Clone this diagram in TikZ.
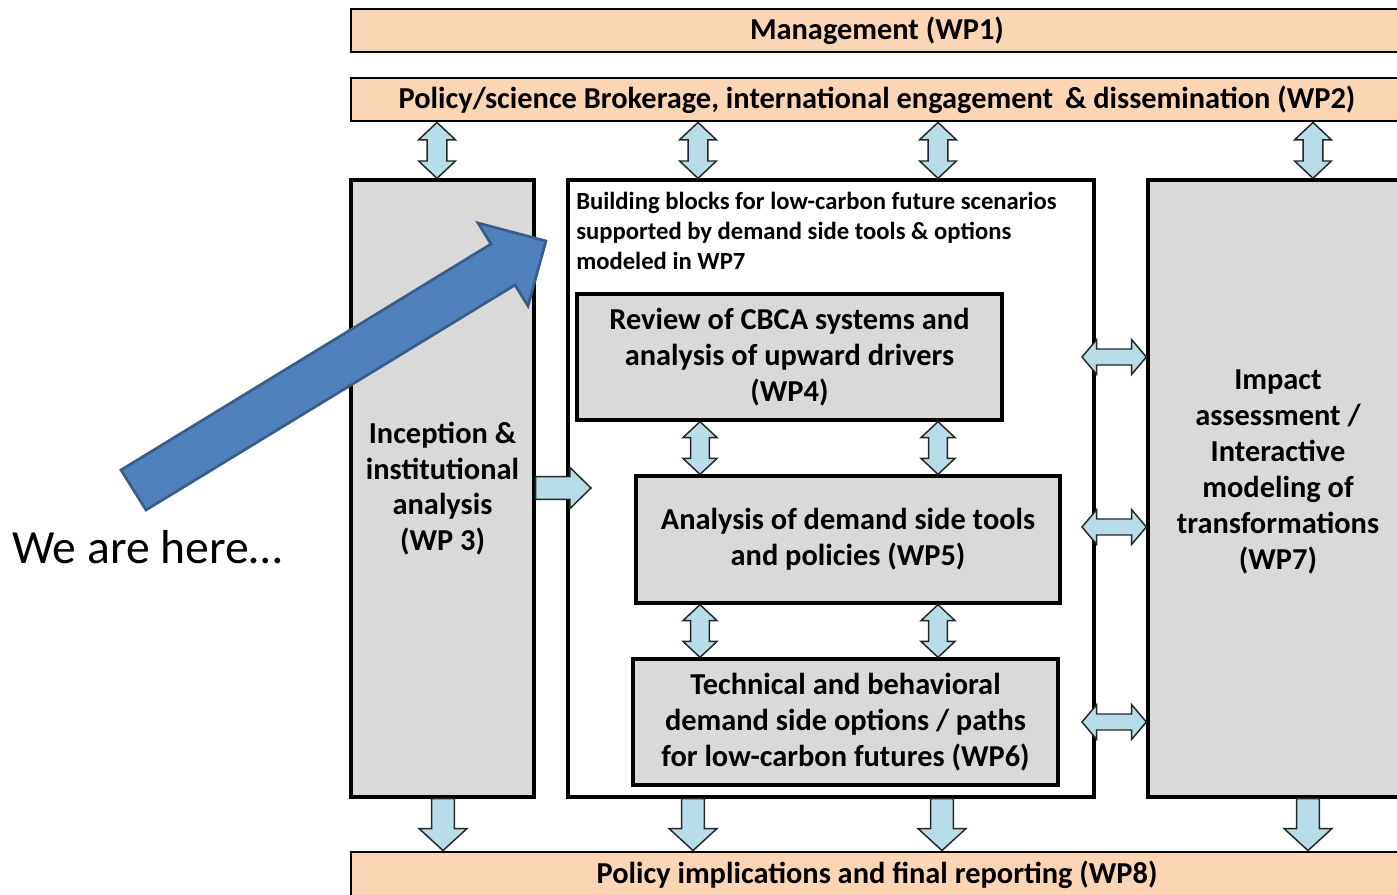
\documentclass[tikz,border=0pt]{standalone}
\usepackage{fontspec}
\setmainfont{Carlito}
\usetikzlibrary{calc}
\definecolor{peach}{HTML}{FCD5B5}
\definecolor{boxgray}{HTML}{D9D9D9}
\definecolor{arrblue}{HTML}{B7DEE8}
\definecolor{bigblue}{HTML}{4F81BD}
\definecolor{bigblueline}{HTML}{385D8A}
\tikzset{
  bar/.style={draw=black, line width=2.2pt, fill=peach, inner sep=0pt,
    font=\bfseries\fontsize{22.8}{26}\selectfont},
  graybox/.style={draw=black, line width=2.5pt, fill=boxgray, inner sep=0pt,
    align=center, font=\bfseries\fontsize{22.8}{26.8}\selectfont},
  whitebox/.style={draw=black, line width=2.6pt, fill=white, inner sep=0pt},
  barrow/.style={draw=black!85, line width=1.1pt, fill=arrblue, line join=miter},
  bigarrow/.style={draw=bigblueline, line width=2pt, fill=bigblue, line join=miter},
}
% vertical double arrow: #1 top point, #2 bottom point, #3 head half width, #4 shaft half width, #5 head length
\newcommand\vdblarr[5]{%
  \path[barrow] let \p1=#1, \p2=#2 in
    (\x1,\y1) -- (\x1+#3,\y1-#5) -- (\x1+#4,\y1-#5) -- (\x1+#4,\y2+#5) -- (\x1+#3,\y2+#5)
    -- (\x1,\y2) -- (\x1-#3,\y2+#5) -- (\x1-#4,\y2+#5) -- (\x1-#4,\y1-#5) -- (\x1-#3,\y1-#5) -- cycle;}
% horizontal double arrow: #1 left point, #2 right point
\newcommand\hdblarr[5]{%
  \path[barrow] let \p1=#1, \p2=#2 in
    (\x1,\y1) -- (\x1+#5,\y1+#3) -- (\x1+#5,\y1+#4) -- (\x2-#5,\y1+#4) -- (\x2-#5,\y1+#3)
    -- (\x2,\y1) -- (\x2-#5,\y1-#3) -- (\x2-#5,\y1-#4) -- (\x1+#5,\y1-#4) -- (\x1+#5,\y1-#3) -- cycle;}
% down arrow: #1 top point, #2 bottom (tip)
\newcommand\downarr[5]{%
  \path[barrow] let \p1=#1, \p2=#2 in
    (\x1-#4,\y1) -- (\x1+#4,\y1) -- (\x1+#4,\y2+#5) -- (\x1+#3,\y2+#5) -- (\x1,\y2)
    -- (\x1-#3,\y2+#5) -- (\x1-#4,\y2+#5) -- cycle;}
% right arrow: #1 left point, #2 right (tip)
\newcommand\rightarr[5]{%
  \path[barrow] let \p1=#1, \p2=#2 in
    (\x1,\y1+#4) -- (\x2-#5,\y1+#4) -- (\x2-#5,\y1+#3) -- (\x2,\y1) -- (\x2-#5,\y1-#3)
    -- (\x2-#5,\y1-#4) -- (\x1,\y1-#4) -- cycle;}
\begin{document}
\begin{tikzpicture}[x=0.75pt,y=-0.75pt]
\clip (0,0) rectangle (1397,895);
\fill[white] (0,0) rectangle (1397,895);

% bars
\node[bar, minimum width=1052*0.75pt, minimum height=43*0.75pt] (wp1) at (877,30.5) {Management (WP1)};
\node[bar, minimum width=1052*0.75pt, minimum height=43*0.75pt] (wp2) at (877,99.5) {Policy/science Brokerage, international engagement \,\& dissemination (WP2)};
\node[bar, minimum width=1052*0.75pt, minimum height=46*0.75pt] (wp8) at (877,875) {Policy implications and final reporting (WP8)};

% main boxes
\node[graybox, minimum width=183*0.75pt, minimum height=617*0.75pt] (wp3) at (442.5,488.5)
  {Inception \&\\institutional\\analysis\\(WP 3)};
\node[whitebox, minimum width=526*0.75pt, minimum height=617*0.75pt] (bb) at (831,488.5) {};
\node[graybox, minimum width=262*0.75pt, minimum height=617*0.75pt] (wp7) at (1279,488.5) {};
\node[align=center, inner sep=0pt, font=\bfseries\fontsize{22.8}{27}\selectfont] (wp7t) at (1278,472)
  {Impact\\assessment /\\Interactive\\modeling of\\transformations\\(WP7)};

\node[anchor=north west, align=left, inner sep=0pt, font=\bfseries\fontsize{18.5}{22.5}\selectfont] (bbt) at (576,192)
  {Building blocks for low-carbon future scenarios\\supported by demand side tools \& options\\modeled in WP7};

\node[graybox, minimum width=425*0.75pt, minimum height=126*0.75pt] (wp4) at (789.5,357)
  {Review of CBCA systems and\\analysis of upward drivers\\(WP4)};
\node[graybox, minimum width=424*0.75pt, minimum height=127*0.75pt] (wp5) at (848,539.5)
  {Analysis of demand side tools\\and policies (WP5)};
\node[graybox, minimum width=425*0.75pt, minimum height=126*0.75pt] (wp6) at (845.5,722)
  {Technical and behavioral\\demand side options / paths\\for low-carbon futures (WP6)};

% top double arrows (WP2 <-> boxes)
\foreach \xx in {437,698,938,1313}{
  \vdblarr{(\xx,0 |- wp2.south)}{(\xx,0 |- wp3.north)}{13.8pt}{7.4pt}{13pt}
}
% WP4 <-> WP5 and WP5 <-> WP6
\foreach \xx in {700,938}{
  \vdblarr{(\xx,0 |- wp4.south)}{(\xx,0 |- wp5.north)}{12.8pt}{7pt}{12pt}
  \vdblarr{(\xx,0 |- wp5.south)}{(\xx,0 |- wp6.north)}{12.8pt}{7pt}{12pt}
}
% horizontal double arrows (building blocks <-> WP7)
\foreach \yy in {357,527,722}{
  \hdblarr{(1082,\yy)}{(0,\yy -| wp7.west)}{13pt}{6pt}{11pt}
}
% WP3 -> building blocks
\rightarr{(0,488 -| wp3.east)}{(591,488)}{15.4pt}{8.6pt}{15.8pt}
% down arrows to WP8
\foreach \xx in {443,693,942,1308}{
  \downarr{(\xx,0 |- wp3.south)}{(\xx,0 |- wp8.north)}{18pt}{8.6pt}{16.5pt}
}

% "We are here" and big arrow
\node[anchor=base west, inner sep=0pt, font=\fontsize{35.7}{40}\selectfont] (here) at (12,563) {We are here…};
\path[bigarrow] (121,470) -- (491,244) -- (478,223) -- (546,241) -- (528,306) -- (515,285) -- (146,510) -- cycle;
\end{tikzpicture}
\end{document}
